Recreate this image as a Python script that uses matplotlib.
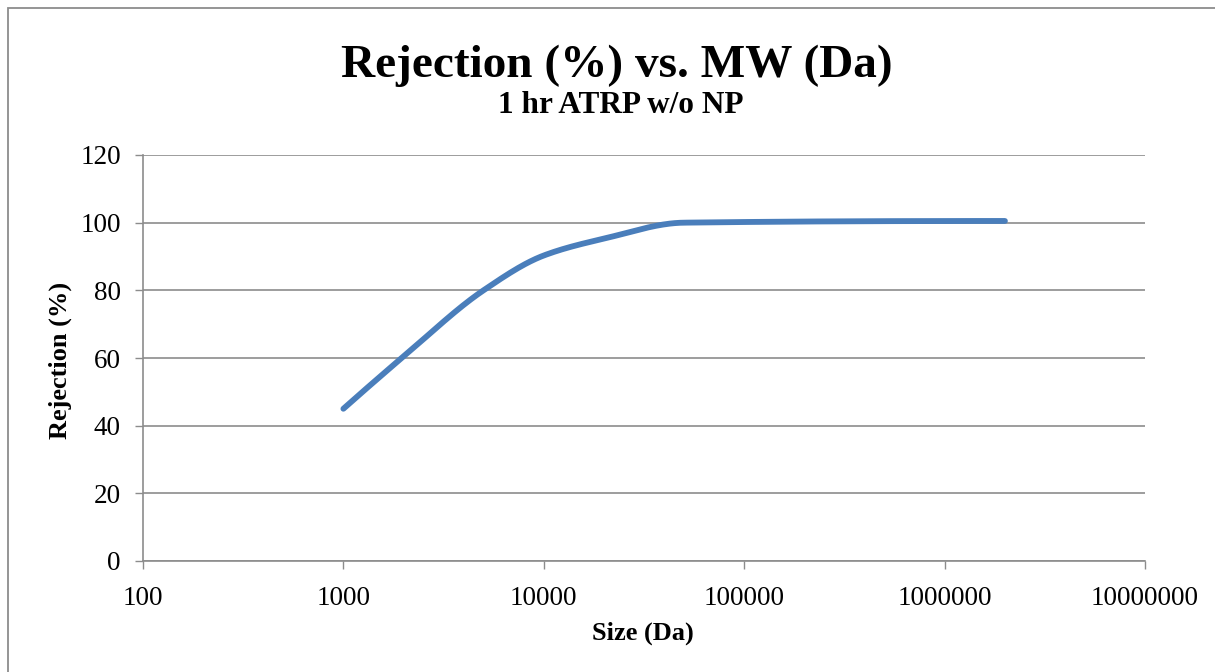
import numpy as np
import matplotlib
matplotlib.use("Agg")
import matplotlib.pyplot as plt
from matplotlib.patches import Rectangle

# Data
size_da = [1000, 2000, 5000, 10000, 20000, 50000, 2000000]
rejection = [45.0, 60.5, 80.0, 90.3, 95.3, 100.0, 100.5]
x_ticks = [100, 1000, 10000, 100000, 1000000, 10000000]
x_tick_labels = ["100", "1000", "10000", "100000", "1000000", "10000000"]
y_ticks = [0, 20, 40, 60, 80, 100, 120]

title = "Rejection (%) vs. MW (Da)"
subtitle = "1 hr ATRP w/o NP"
xlabel = "Size (Da)"
ylabel = "Rejection (%)"

plt.rcParams['font.family'] = ['Liberation Serif', 'DejaVu Serif']


def pchip(xk, yk, xs):
    """Monotone cubic (Fritsch-Carlson) interpolation."""
    h = np.diff(xk)
    d = np.diff(yk) / h
    n = len(xk)
    m = np.zeros(n)
    for k in range(1, n - 1):
        if d[k - 1] * d[k] <= 0:
            m[k] = 0.0
        else:
            w1 = 2 * h[k] + h[k - 1]
            w2 = h[k] + 2 * h[k - 1]
            m[k] = (w1 + w2) / (w1 / d[k - 1] + w2 / d[k])

    def end(h0, h1, d0, d1):
        mm = ((2 * h0 + h1) * d0 - h0 * d1) / (h0 + h1)
        if np.sign(mm) != np.sign(d0):
            mm = 0.0
        elif np.sign(d0) != np.sign(d1) and abs(mm) > abs(3 * d0):
            mm = 3 * d0
        return mm
    m[0] = end(h[0], h[1], d[0], d[1])
    m[-1] = end(h[-1], h[-2], d[-1], d[-2])
    idx = np.clip(np.searchsorted(xk, xs) - 1, 0, n - 2)
    t = (xs - xk[idx]) / h[idx]
    h00 = 2 * t**3 - 3 * t**2 + 1
    h10 = t**3 - 2 * t**2 + t
    h01 = -2 * t**3 + 3 * t**2
    h11 = t**3 - t**2
    return (h00 * yk[idx] + h10 * h[idx] * m[idx] + h01 * yk[idx + 1]
            + h11 * h[idx] * m[idx + 1])


fig = plt.figure(figsize=(12.15, 6.72), dpi=100)
ax = fig.add_axes([143/1215, 1-561/672, (1145-143)/1215, (561-155)/672])

lx = np.log10(np.array(size_da, dtype=float))
ly = np.array(rejection, dtype=float)
xs = np.linspace(lx[0], lx[-1], 500)
ys = pchip(lx, ly, xs)

ax.set_xscale('log')
ax.set_xlim(100, 10000000)
ax.set_ylim(0, 120)

ax.yaxis.grid(True, color='#8c8c8c', linewidth=1.2)
ax.set_axisbelow(True)
ax.plot(10**xs, ys, color='#4A7EBB', linewidth=4.2,
        solid_capstyle='round', zorder=3)

ax.set_xticks(x_ticks)
ax.set_xticklabels(x_tick_labels)
ax.xaxis.set_minor_locator(matplotlib.ticker.NullLocator())
ax.set_yticks(y_ticks)
ax.tick_params(axis='both', which='major', labelsize=19.5, color='#8c8c8c',
               length=6, width=1.0, direction='out')
ax.tick_params(axis='x', pad=12)
ax.tick_params(axis='y', pad=10)

for s in ['top', 'right']:
    ax.spines[s].set_visible(False)
for s in ['left', 'bottom']:
    ax.spines[s].set_color('#8c8c8c')
    ax.spines[s].set_linewidth(1.2)

fig.text(617/1215, 1-77/672, title, ha='center', va='baseline',
         fontsize=34, fontweight='bold')
fig.text(621/1215, 1-113/672, subtitle, ha='center', va='baseline',
         fontsize=22.5, fontweight='bold')
fig.text(643/1215, 1-640/672, xlabel, ha='center', va='baseline',
         fontsize=19, fontweight='bold')
fig.text(60/1215, 1-360/672, ylabel, ha='center', va='center',
         fontsize=19, fontweight='bold', rotation=90)

fig.patches.append(Rectangle((8/1215, -0.1), 1.2, 1 - 8/672 + 0.1,
                             transform=fig.transFigure, fill=False,
                             edgecolor='#8c8c8c', linewidth=1.3))

fig.savefig("out.png", dpi=100)
